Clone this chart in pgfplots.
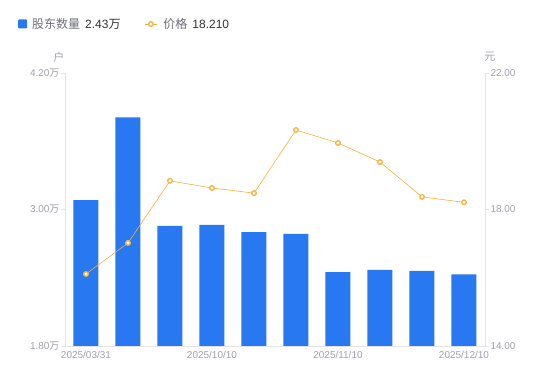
\documentclass[border=0pt]{standalone}
\usepackage{fontspec}
\setmainfont{Liberation Sans}
\newfontfamily\cjk{Noto Sans CJK SC}
\usepackage{pgfplots}
\pgfplotsset{compat=1.18}
\definecolor{barblue}{HTML}{2878F2}
\definecolor{lineor}{HTML}{F7B13C}
\definecolor{tickgray}{HTML}{A0A1AB}
\definecolor{axgray}{HTML}{E3E4E8}
\definecolor{leggray}{HTML}{6E6F78}
\definecolor{legdark}{HTML}{333333}
\begin{document}
\begin{tikzpicture}
\path[use as bounding box] (0,0) rectangle (550pt,381pt);
\begin{axis}[
  at={(65pt,35pt)}, anchor=south west,
  scale only axis, width=420pt, height=273pt,
  xmin=-0.5, xmax=9.5, ymin=1.8, ymax=4.2,
  axis x line*=bottom, axis y line*=left,
  axis line style={draw=axgray, line width=0.8pt},
  xtick={0,3,6,9},
  xticklabels={2025/03/31,2025/10/10,2025/11/10,2025/12/10},
  x tick style={draw=none},
  ytick={1.8,3.0,4.2},
  yticklabel={\pgfmathprintnumber[fixed,fixed zerofill,precision=2]{\tick}{\cjk 万}},
  y tick style={draw=axgray, line width=0.8pt},
  tick align=outside, major tick length=4pt,
  ticklabel style={font=\fontsize{10}{12}\selectfont, text=tickgray},
  /pgf/number format/assume math mode=true,
  x tick label style={yshift=2pt},
  y tick label style={xshift=2pt},
  clip=false,
  legend style={at={(axis description cs:0,1)}, anchor=west, xshift=-50pt, yshift=49pt,
    draw=none, fill=none, legend columns=2, font=\fontsize{12}{14}\selectfont,
    /tikz/every even column/.append style={column sep=22pt}},
]
\addplot[ybar, bar width=25pt, fill=barblue, draw=none,
  legend image code/.code={\fill[barblue, rounded corners=1pt] (0pt,-4.5pt) rectangle (9pt,4.5pt);}]
  coordinates {(0,3.083) (1,3.81) (2,2.855) (3,2.864) (4,2.80) (5,2.785) (6,2.45) (7,2.47) (8,2.46) (9,2.43)};
\addlegendentry{\hspace{3pt}\textcolor{leggray}{\cjk 股东数量}\hspace{5pt}\textcolor{legdark}{2.43{\cjk 万}}}
\addlegendimage{color=lineor, line width=0.9pt, mark=o, mark options={line width=1.3pt, fill=white, scale=0.8},
  legend image code/.code={\draw[lineor, line width=0.9pt] (0pt,0pt) -- (12pt,0pt); \draw[lineor, line width=1.3pt, fill=white] (6pt,0pt) circle (2.3pt);}}
\addlegendentry{\hspace{4pt}\textcolor{leggray}{\cjk 价格}\hspace{5pt}\textcolor{legdark}{18.210}}
\node[font=\cjk\fontsize{11}{13}\selectfont, text=tickgray] at ([xshift=-6pt,yshift=16pt]axis description cs:0,1) {户};
\end{axis}
\begin{axis}[
  at={(65pt,35pt)}, anchor=south west,
  scale only axis, width=420pt, height=273pt,
  xmin=-0.5, xmax=9.5, ymin=14, ymax=22,
  axis x line=none, axis y line*=right,
  axis line style={draw=axgray, line width=0.8pt},
  ytick={14,18,22},
  yticklabel={\pgfmathprintnumber[fixed,fixed zerofill,precision=2]{\tick}},
  y tick style={draw=axgray, line width=0.8pt},
  tick align=outside, major tick length=4pt,
  ticklabel style={font=\fontsize{10}{12}\selectfont, text=tickgray},
  /pgf/number format/assume math mode=true,
  y tick label style={xshift=-2pt},
  clip=false,
]
\addplot[color=lineor, line width=0.6pt, mark=*, mark size=2.3pt,
  mark options={draw=lineor, fill=white, line width=1.3pt}]
  coordinates {(0,16.11) (1,17.02) (2,18.84) (3,18.63) (4,18.48) (5,20.33) (6,19.95) (7,19.39) (8,18.37) (9,18.21)};
\node[font=\cjk\fontsize{11}{13}\selectfont, text=tickgray] at ([xshift=5pt,yshift=16pt]axis description cs:1,1) {元};
\end{axis}
\end{tikzpicture}
\end{document}
